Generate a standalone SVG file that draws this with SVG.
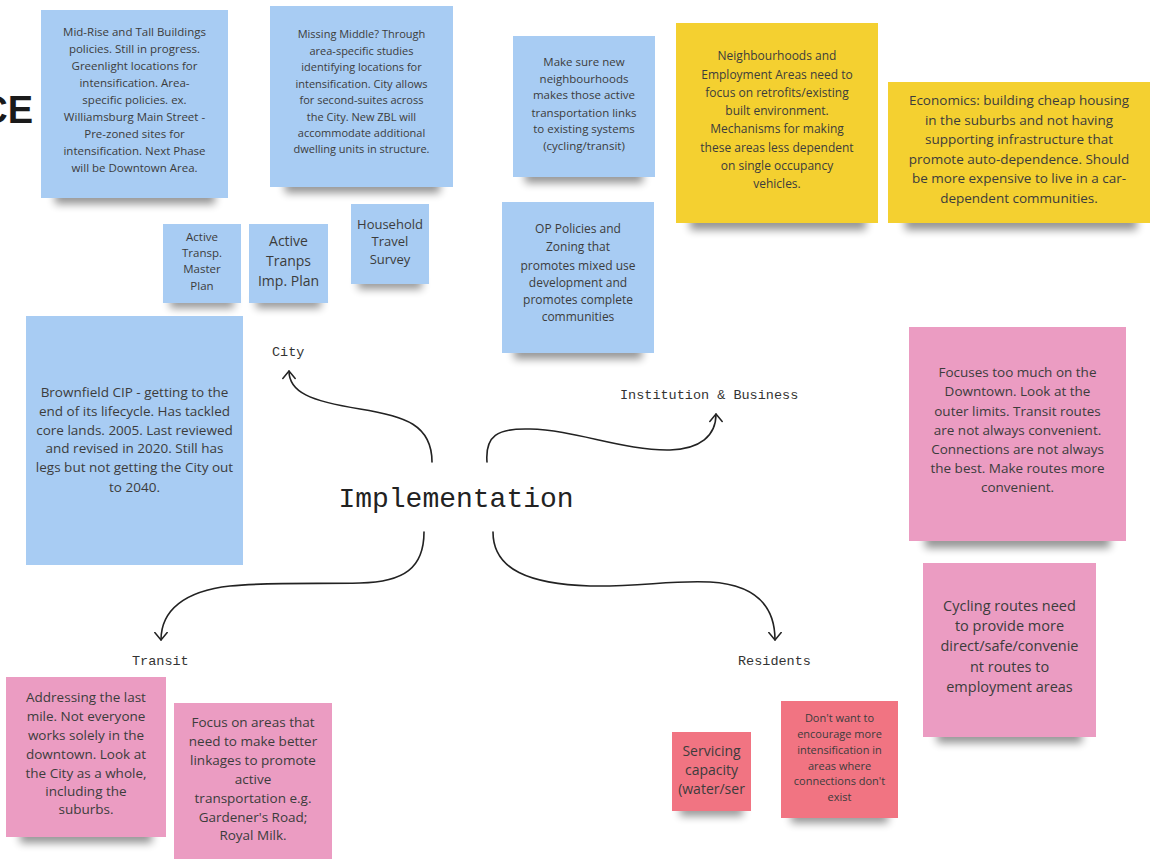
<svg xmlns="http://www.w3.org/2000/svg" width="1152" height="859" viewBox="0 0 1152 859">
<defs>
<filter id="blur" x="-30%" y="-150%" width="160%" height="400%"><feGaussianBlur stdDeviation="4"/></filter>
<marker id="arr" viewBox="0 0 10 14" refX="8.5" refY="7" markerWidth="10" markerHeight="14" markerUnits="userSpaceOnUse" orient="auto"><path d="M1,0.8 L8.5,7 L1,13.2" fill="none" stroke="#222" stroke-width="1.5" stroke-linecap="round" stroke-linejoin="round"/></marker>
<style>
.sh{fill:#000;opacity:.42;filter:url(#blur)}
.blue{fill:#a8ccf3}
.yellow{fill:#f4d030}
.pink{fill:#eb9cc2}
.red{fill:#f17482}
.t{font-family:"Open Sans","Liberation Sans",sans-serif;fill:#3c3c3c;text-anchor:middle}
.lbl{font-family:"Liberation Mono","DejaVu Sans Mono",monospace;font-size:13.5px;fill:#333}
.conn{fill:none;stroke:#222;stroke-width:1.6;stroke-linecap:round}
</style>
</defs>
<rect width="1152" height="859" fill="#fff"/>
<text x="33" y="123" text-anchor="end" font-family="Liberation Sans, Arial, sans-serif" font-weight="bold" font-size="38" fill="#1a1a1a">CE</text>

<g id="n-midrise">
<rect class="sh" x="55" y="190" width="160" height="14"/>
<rect class="blue" x="41" y="10" width="187" height="188"/>
<text class="t" font-size="11.5"><tspan x="134.5" y="36">Mid-Rise and Tall Buildings</tspan><tspan x="134.5" y="53">policies. Still in progress.</tspan><tspan x="134.5" y="70">Greenlight locations for</tspan><tspan x="134.5" y="87">intensification. Area-</tspan><tspan x="134.5" y="104">specific policies. ex.</tspan><tspan x="134.5" y="121">Williamsburg Main Street -</tspan><tspan x="134.5" y="138">Pre-zoned sites for</tspan><tspan x="134.5" y="155">intensification. Next Phase</tspan><tspan x="134.5" y="172">will be Downtown Area.</tspan></text>
</g>
<g id="n-missing">
<rect class="sh" x="285" y="179" width="155" height="14"/>
<rect class="blue" x="270" y="6" width="183" height="181"/>
<text class="t" font-size="11"><tspan x="361.5" y="38">Missing Middle? Through</tspan><tspan x="361.5" y="54.5">area-specific studies</tspan><tspan x="361.5" y="71">identifying locations for</tspan><tspan x="361.5" y="87.5">intensification. City allows</tspan><tspan x="361.5" y="104">for second-suites across</tspan><tspan x="361.5" y="120.5">the City.  New ZBL will</tspan><tspan x="361.5" y="137">accommodate additional</tspan><tspan x="361.5" y="153">dwelling units in structure.</tspan></text>
</g>
<g id="n-atmp">
<rect class="sh" x="170" y="296" width="64" height="12"/>
<rect class="blue" x="163" y="224" width="78" height="79"/>
<text class="t" font-size="11.5"><tspan x="202" y="241">Active</tspan><tspan x="202" y="257">Transp.</tspan><tspan x="202" y="273">Master</tspan><tspan x="202" y="290">Plan</tspan></text>
</g>
<g id="n-atip">
<rect class="sh" x="256" y="296" width="65" height="12"/>
<rect class="blue" x="249" y="224" width="79" height="79"/>
<text class="t" font-size="14"><tspan x="288.5" y="246">Active</tspan><tspan x="288.5" y="266">Tranps</tspan><tspan x="288.5" y="286">Imp. Plan</tspan></text>
</g>
<g id="n-household">
<rect class="sh" x="358" y="277" width="64" height="12"/>
<rect class="blue" x="351" y="204" width="78" height="80"/>
<text class="t" font-size="13"><tspan x="390" y="228.5">Household</tspan><tspan x="390" y="245.5">Travel</tspan><tspan x="390" y="263.5">Survey</tspan></text>
</g>
<g id="n-makesure">
<rect class="sh" x="525" y="169" width="118" height="14"/>
<rect class="blue" x="513" y="36" width="142" height="141"/>
<text class="t" font-size="11.5"><tspan x="584" y="66">Make sure new</tspan><tspan x="584" y="83">neighbourhoods</tspan><tspan x="584" y="99">makes those active</tspan><tspan x="584" y="117">transportation links</tspan><tspan x="584" y="133">to existing systems</tspan><tspan x="584" y="150">(cycling/transit)</tspan></text>
</g>
<g id="n-neigh">
<rect class="sh" x="690" y="215" width="176" height="15"/>
<rect class="yellow" x="676" y="23" width="202" height="200"/>
<text class="t" font-size="12"><tspan x="777" y="60">Neighbourhoods and</tspan><tspan x="777" y="79">Employment Areas need to</tspan><tspan x="777" y="97">focus on retrofits/existing</tspan><tspan x="777" y="115">built environment.</tspan><tspan x="777" y="133">Mechanisms for making</tspan><tspan x="777" y="152">these areas less dependent</tspan><tspan x="777" y="170">on single occupancy</tspan><tspan x="777" y="188">vehicles.</tspan></text>
</g>
<g id="n-econ">
<rect class="sh" x="905" y="215" width="232" height="15"/>
<rect class="yellow" x="888" y="82" width="262" height="141"/>
<text class="t" font-size="13.5"><tspan x="1019" y="104.5">Economics: building cheap housing</tspan><tspan x="1019" y="124.5">in the suburbs and not having</tspan><tspan x="1019" y="143.5">supporting infrastructure that</tspan><tspan x="1019" y="163.5">promote auto-dependence. Should</tspan><tspan x="1019" y="182.5">be more expensive to live in a car-</tspan><tspan x="1019" y="202.5">dependent communities.</tspan></text>
</g>
<g id="n-op">
<rect class="sh" x="514" y="345" width="128" height="14"/>
<rect class="blue" x="502" y="202" width="152" height="151"/>
<text class="t" font-size="12"><tspan x="578" y="233">OP Policies and</tspan><tspan x="578" y="251">Zoning that</tspan><tspan x="578" y="270">promotes mixed use</tspan><tspan x="578" y="287">development and</tspan><tspan x="578" y="304">promotes complete</tspan><tspan x="578" y="321">communities</tspan></text>
</g>
<g id="n-brownfield">
<rect class="blue" x="26" y="316" width="217" height="249"/>
<text class="t" font-size="13.5"><tspan x="134.5" y="396.5">Brownfield CIP - getting to the</tspan><tspan x="134.5" y="415.5">end of its lifecycle. Has tackled</tspan><tspan x="134.5" y="434.5">core lands. 2005. Last reviewed</tspan><tspan x="134.5" y="452.5">and revised in 2020. Still has</tspan><tspan x="134.5" y="471.5">legs but not getting the City out</tspan><tspan x="134.5" y="491.5">to 2040.</tspan></text>
</g>
<g id="n-focuses">
<rect class="sh" x="925" y="533" width="185" height="15"/>
<rect class="pink" x="909" y="327" width="217" height="214"/>
<text class="t" font-size="13.5"><tspan x="1017.5" y="376.5">Focuses too much on the</tspan><tspan x="1017.5" y="395.5">Downtown. Look at the</tspan><tspan x="1017.5" y="415.5">outer limits. Transit routes</tspan><tspan x="1017.5" y="434.5">are not always convenient.</tspan><tspan x="1017.5" y="453.5">Connections are not always</tspan><tspan x="1017.5" y="472.5">the best. Make routes more</tspan><tspan x="1017.5" y="491.5">convenient.</tspan></text>
</g>
<g id="n-cycling">
<rect class="sh" x="937" y="729" width="145" height="14"/>
<rect class="pink" x="923" y="563" width="173" height="174"/>
<text class="t" font-size="14.5"><tspan x="1009.5" y="611">Cycling routes need</tspan><tspan x="1009.5" y="631">to provide more</tspan><tspan x="1009.5" y="651">direct/safe/convenie</tspan><tspan x="1009.5" y="672">nt routes to</tspan><tspan x="1009.5" y="692">employment areas</tspan></text>
</g>
<g id="n-lastmile">
<rect class="sh" x="20" y="829" width="132" height="14"/>
<rect class="pink" x="6" y="677" width="160" height="160"/>
<text class="t" font-size="13.5"><tspan x="86" y="701.5">Addressing the last</tspan><tspan x="86" y="720.5">mile. Not everyone</tspan><tspan x="86" y="739.5">works solely in the</tspan><tspan x="86" y="758.5">downtown. Look at</tspan><tspan x="86" y="777.5">the City as a whole,</tspan><tspan x="86" y="795.5">including the</tspan><tspan x="86" y="813.5">suburbs.</tspan></text>
</g>
<g id="n-focusareas">
<rect class="pink" x="174" y="703" width="158" height="160"/>
<text class="t" font-size="13.5"><tspan x="253" y="726.5">Focus on areas that</tspan><tspan x="253" y="745.5">need to make better</tspan><tspan x="253" y="764.5">linkages to promote</tspan><tspan x="253" y="783.5">active</tspan><tspan x="253" y="802.5">transportation e.g.</tspan><tspan x="253" y="821.5">Gardener's Road;</tspan><tspan x="253" y="839.5">Royal Milk.</tspan></text>
</g>
<g id="n-servicing">
<rect class="sh" x="680" y="804" width="63" height="12"/>
<rect class="red" x="672" y="732" width="79" height="79"/>
<text class="t" font-size="14"><tspan x="711.5" y="756">Servicing</tspan><tspan x="711.5" y="775">capacity</tspan><tspan x="711.5" y="794">(water/ser</tspan></text>
</g>
<g id="n-dontwant">
<rect class="sh" x="791" y="810" width="97" height="13"/>
<rect class="red" x="781" y="701" width="117" height="117"/>
<text class="t" font-size="11"><tspan x="839.5" y="722">Don't want to</tspan><tspan x="839.5" y="738">encourage more</tspan><tspan x="839.5" y="754">intensification in</tspan><tspan x="839.5" y="770">areas where</tspan><tspan x="839.5" y="785">connections don't</tspan><tspan x="839.5" y="801">exist</tspan></text>
</g>

<g id="n-center">
<text x="456" y="507" text-anchor="middle" font-family="Liberation Mono, DejaVu Sans Mono, monospace" font-size="28" fill="#222">Implementation</text>
</g>
<g id="n-city"><text class="lbl" x="272" y="356">City</text></g>
<g id="n-inst"><text class="lbl" x="620" y="399">Institution &amp; Business</text></g>
<g id="n-transit"><text class="lbl" x="132" y="665">Transit</text></g>
<g id="n-residents"><text class="lbl" x="738" y="665">Residents</text></g>

<g id="connectors">
<path class="conn" marker-end="url(#arr)" d="M432,462 C432,425 405,416 360,409 C310,401 289,392 289,371"/>
<path class="conn" marker-end="url(#arr)" d="M487,462 C485,436 497,428 530,429 C575,430 625,451 670,450 C700,449 716,436 716,414"/>
<path class="conn" marker-end="url(#arr)" d="M424,532 C424,568 404,582 360,583 C320,584 270,582 230,586 C185,591 161,610 161,640"/>
<path class="conn" marker-end="url(#arr)" d="M493,532 C493,570 530,584 590,586 C640,587 670,580 710,582 C760,585 775,610 775,640"/>
</g>
</svg>
